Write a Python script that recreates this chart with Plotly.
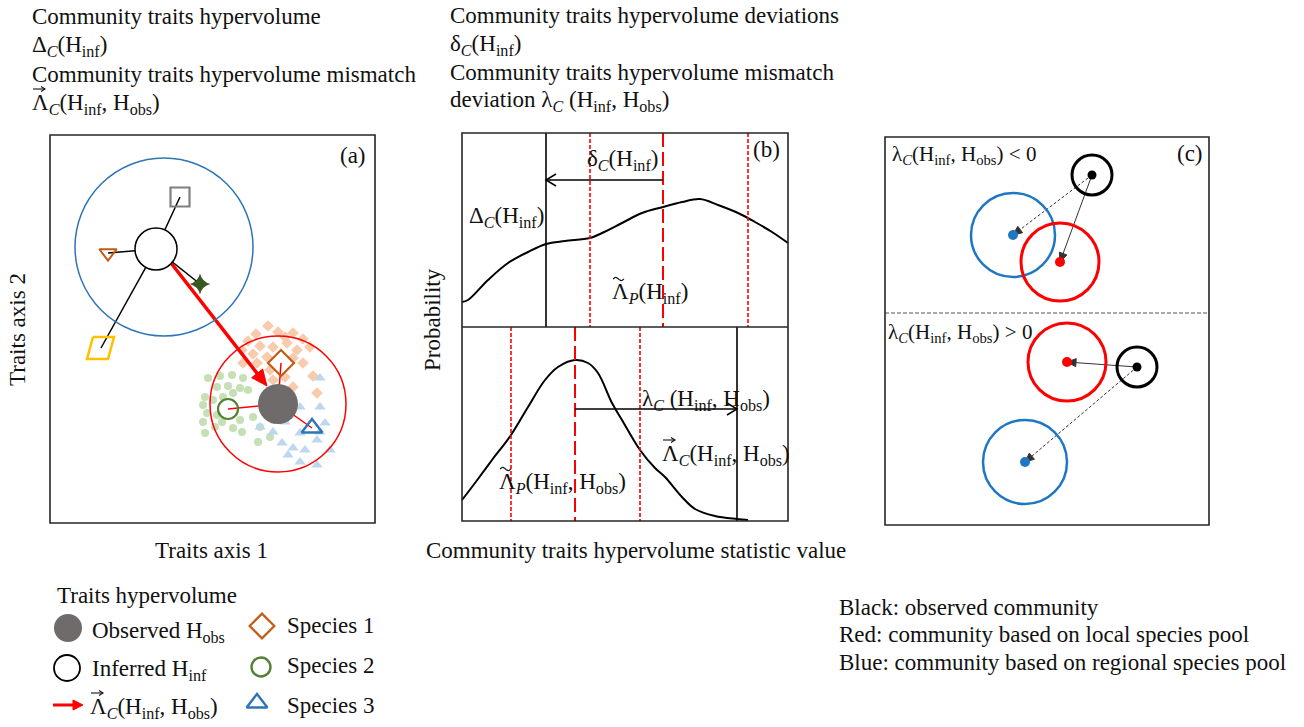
import numpy as np
import plotly.graph_objects as go

W, H = 1304, 727
FONT = "Liberation Serif"
BLUE = "#2e75b6"
RED = "#ff0000"
GRAY = "#6f6b6b"

# ---------------- panel frames (diagram units) ----------------
box_a = [50, 135, 375, 523]
box_b = [462, 133, 788, 521]
b_split = 327
box_c = [885, 137, 1209, 525]
c_split = 313

# ---------------- panel (a): trait space ----------------
regional_circle = dict(cx=164, cy=247, r=89)
local_circle = dict(cx=278, cy=404, r=68)
inferred = dict(cx=156, cy=249, r=21)
observed = dict(cx=278, cy=404, r=20)

# species of the regional pool linked to the inferred hypervolume
pool_sq = (180, 197)
pool_tri = (108, 253)
pool_star = (200, 284)
pool_para = (101, 348)
para_dx = [-8, 13, 7, -14, -8]
para_dy = [-11, -11, 11, 11, -11]

# local species and their individuals
sp1 = (281, 363)
sp2 = (228, 409)
sp3 = (312, 428)
sp1_x = [268, 278, 293, 256, 285, 303, 248, 260, 273, 287, 297, 310, 242, 253, 267, 293, 303, 313,
         243, 257, 270, 293, 317, 273, 285]
sp1_y = [326, 332, 333, 334, 337, 339, 341, 346, 347, 343, 350, 347, 350, 354, 357, 358, 363, 376,
         363, 363, 370, 387, 393, 380, 377]
sp2_x = [208, 220, 232, 243, 217, 228, 240, 248, 205, 203, 213, 223, 233, 207, 217, 203, 222, 240,
         253, 205, 215, 233, 242, 258, 270, 260, 273]
sp2_y = [378, 376, 375, 378, 387, 386, 388, 390, 397, 405, 400, 397, 393, 413, 415, 422, 422, 420,
         417, 433, 427, 428, 432, 442, 437, 427, 420]
sp3_x = [320, 300, 320, 325, 260, 273, 285, 300, 282, 293, 305, 317, 330, 288, 300, 317, 320]
sp3_y = [378, 407, 407, 423, 427, 432, 422, 433, 443, 448, 450, 440, 450, 455, 462, 465, 432]

mismatch_arrow = [(171, 263), (267, 386)]

# ---------------- panel (b): null distributions ----------------
top_x = [462, 468, 488, 508, 528, 546, 565, 590, 602, 622, 642, 663, 682, 700, 718, 738, 755, 772, 788]
top_y = [302, 300, 280, 263, 252, 244, 241, 238, 233, 223, 213, 207, 202, 199, 205, 213, 222, 232, 243]
bot_x = [462, 475, 492, 511, 528, 545, 558, 575, 588, 598, 612, 622, 640, 655, 665, 682, 695, 715, 737, 748]
bot_y = [500, 483, 460, 435, 407, 380, 367, 360, 363, 373, 403, 420, 450, 468, 477, 497, 509, 516, 519, 520]

top_obs_x = 546
top_quant_x = [590, 748]
top_mean_x = 663
bot_obs_x = 737
bot_quant_x = [511, 640]
bot_mean_x = 575
delta_arrow_y = 180
lambda_arrow_y = 409

# ---------------- panel (c): pool comparisons ----------------
c_obs = [(1092, 175), (1137, 367)]
c_local = [(1060, 262), (1067, 362)]
c_regional = [(1013, 235), (1025, 462)]
c_obs_r, c_local_r, c_reg_r = 20, 39, 42

# ---------------- legend ----------------
leg_obs = (68, 628)
leg_inf = (67, 668)
leg_arrow = [(53, 705), (83, 705)]
leg_sp = [(262, 626), (261, 667), (257, 703)]

fig = go.Figure()
shapes = []


def circle(cx, cy, r, color, width, fill="rgba(0,0,0,0)"):
    shapes.append(dict(type="circle", xref="x", yref="y", x0=cx - r, x1=cx + r, y0=cy - r, y1=cy + r,
                       line=dict(color=color, width=width), fillcolor=fill, layer="above"))


def rect(b, width=1.6):
    shapes.append(dict(type="rect", xref="x", yref="y", x0=b[0], y0=b[1], x1=b[2], y1=b[3],
                       line=dict(color="#262626", width=width), layer="above"))


def seg(x0, y0, x1, y1, color, width, dash="solid"):
    fig.add_trace(go.Scatter(x=[x0, x1], y=[y0, y1], mode="lines",
                             line=dict(color=color, width=width, dash=dash),
                             hoverinfo="skip", showlegend=False))


def arrow(x0, y0, x1, y1, color, width, dash="solid", head="filled", hl=10, hw=5):
    dx, dy = x1 - x0, y1 - y0
    L = np.hypot(dx, dy)
    ux, uy = dx / L, dy / L
    px, py = -uy, ux
    bx, by = x1 - ux * hl, y1 - uy * hl
    if head == "open":
        seg(x0, y0, x1, y1, color, width, dash)
        fig.add_trace(go.Scatter(x=[bx + px * hw, x1, bx - px * hw], y=[by + py * hw, y1, by - py * hw],
                                 mode="lines", line=dict(color=color, width=width),
                                 hoverinfo="skip", showlegend=False))
    else:
        seg(x0, y0, bx + ux * 2, by + uy * 2, color, width, dash)
        fig.add_trace(go.Scatter(x=[bx + px * hw, x1, bx - px * hw, bx + px * hw],
                                 y=[by + py * hw, y1, by - py * hw, by + py * hw],
                                 mode="lines", fill="toself", fillcolor=color,
                                 line=dict(color=color, width=1),
                                 hoverinfo="skip", showlegend=False))


def pts(x, y, symbol, color, size, lw=0, lcolor=None):
    fig.add_trace(go.Scatter(x=x, y=y, mode="markers",
                             marker=dict(symbol=symbol, color=color, size=size,
                                         line=dict(width=lw, color=lcolor or color)),
                             hoverinfo="skip", showlegend=False))


# ---- panel (a) ----
pts(sp1_x, sp1_y, "diamond", "#f8cbad", 9)
pts(sp2_x, sp2_y, "circle", "#c5e0b4", 8)
pts(sp3_x, sp3_y, "triangle-up", "#bdd7ee", 10)

for p in [pool_sq, pool_tri, pool_star, pool_para]:
    seg(inferred["cx"], inferred["cy"], p[0], p[1], "black", 1.5)
for p in [sp1, sp2, sp3]:
    seg(observed["cx"], observed["cy"], p[0], p[1], RED, 1.5)

pts([pool_sq[0]], [pool_sq[1]], "square-open", "#7f7f7f", 19, 2.2)
pts([pool_tri[0]], [pool_tri[1]], "triangle-down-open", "#c55a11", 15, 2)
pts([pool_star[0]], [pool_star[1]], "star-diamond", "#385723", 15, 0)
fig.add_trace(go.Scatter(x=[pool_para[0] + d for d in para_dx], y=[pool_para[1] + d for d in para_dy],
                         mode="lines", line=dict(color="#ffc000", width=2.5),
                         hoverinfo="skip", showlegend=False))
pts([sp1[0]], [sp1[1]], "diamond-open", "#c55a11", 20, 2.2)
pts([sp2[0]], [sp2[1]], "circle-open", "#548235", 20, 2.2)
pts([sp3[0]], [sp3[1]], "triangle-up-open", BLUE, 18, 2.4)

arrow(*mismatch_arrow[0], *mismatch_arrow[1], RED, 3.5, hl=16, hw=7)

circle(regional_circle["cx"], regional_circle["cy"], regional_circle["r"], BLUE, 1.5)
circle(local_circle["cx"], local_circle["cy"], local_circle["r"], RED, 1.5)
circle(inferred["cx"], inferred["cy"], inferred["r"], "black", 1.5, "white")
circle(observed["cx"], observed["cy"], observed["r"], GRAY, 0, GRAY)

# ---- panel (b) ----
fig.add_trace(go.Scatter(x=top_x, y=top_y, mode="lines", line=dict(color="black", width=2, shape="spline"),
                         hoverinfo="skip", showlegend=False))
fig.add_trace(go.Scatter(x=bot_x, y=bot_y, mode="lines", line=dict(color="black", width=2, shape="spline"),
                         hoverinfo="skip", showlegend=False))
for xq in top_quant_x:
    seg(xq, box_b[1], xq, b_split, RED, 1.6, "4px,2px")
seg(top_mean_x, box_b[1], top_mean_x, b_split, RED, 2, "14px,5px")
for xq in bot_quant_x:
    seg(xq, b_split, xq, box_b[3], RED, 1.6, "4px,2px")
seg(bot_mean_x, b_split, bot_mean_x, box_b[3], RED, 2, "14px,5px")
seg(top_obs_x, box_b[1], top_obs_x, b_split, "black", 1.6)
seg(bot_obs_x, b_split, bot_obs_x, box_b[3], "black", 1.6)
arrow(top_mean_x, delta_arrow_y, top_obs_x, delta_arrow_y, "black", 1.5, head="open", hl=10, hw=6)
arrow(bot_mean_x, lambda_arrow_y, bot_obs_x, lambda_arrow_y, "black", 1.5, head="open", hl=10, hw=6)
shapes.append(dict(type="line", xref="x", yref="y", x0=box_b[0], x1=box_b[2], y0=b_split, y1=b_split,
                   line=dict(color="#262626", width=1.6), layer="above"))

# ---- panel (c) ----
for i in range(2):
    o, lo, rg = c_obs[i], c_local[i], c_regional[i]
    arrow(o[0], o[1], rg[0], rg[1], "#333333", 1, dash="3px,2px", hl=9, hw=4)
    arrow(o[0], o[1], lo[0], lo[1], "#333333", 1, hl=9, hw=4)
    circle(rg[0], rg[1], c_reg_r, "#1f77c4", 2.5)
    circle(lo[0], lo[1], c_local_r, RED, 3)
    circle(o[0], o[1], c_obs_r, "black", 3)
    pts([o[0]], [o[1]], "circle", "black", 9)
    pts([lo[0]], [lo[1]], "circle", RED, 10)
    pts([rg[0]], [rg[1]], "circle", "#1f77c4", 10)
shapes.append(dict(type="line", xref="x", yref="y", x0=box_c[0], x1=box_c[2], y0=c_split, y1=c_split,
                   line=dict(color="#555555", width=1.2, dash="4px,2px"), layer="above"))

for b in [box_a, box_b, box_c]:
    rect(b)

# ---- legend ----
circle(leg_obs[0], leg_obs[1], 14, GRAY, 0, GRAY)
circle(leg_inf[0], leg_inf[1], 13, "black", 1.8, "white")
arrow(*leg_arrow[0], *leg_arrow[1], RED, 3, hl=10, hw=5)
pts([leg_sp[0][0]], [leg_sp[0][1]], "diamond-open", "#c55a11", 19, 2.2)
pts([leg_sp[1][0]], [leg_sp[1][1]], "circle-open", "#548235", 19, 2.4)
pts([leg_sp[2][0]], [leg_sp[2][1]], "triangle-up-open", BLUE, 18, 2.4)

# ---------------- text ----------------
FS = 23
sub = lambda s: f"<sub>{s}</sub>"
C = sub("<i>C</i>")
P = sub("<i>P</i>")
HINF = "H" + sub("inf")
HOBS = "H" + sub("obs")

# (x, y, text, anchor, size, angle, accent over the leading Λ)
texts = [
    (30, 16, "Community traits hypervolume", "left", FS, 0, None),
    (30, 46, f"Δ{C}({HINF})", "left", FS, 0, None),
    (30, 74, "Community traits hypervolume mismatch", "left", FS, 0, None),
    (30, 104, f"Λ{C}({HINF}, {HOBS})", "left", FS, 0, "vec"),
    (448, 15, "Community traits hypervolume deviations", "left", FS, 0, None),
    (448, 45, f"δ{C}({HINF})", "left", FS, 0, None),
    (448, 72, "Community traits hypervolume mismatch", "left", FS, 0, None),
    (448, 101, f"deviation λ{C} ({HINF}, {HOBS})", "left", FS, 0, None),
    (353, 155, "(a)", "center", FS, 0, None),
    (766, 149, "(b)", "center", FS, 0, None),
    (1190, 153, "(c)", "center", FS, 0, None),
    (211, 550, "Traits axis 1", "center", FS, 0, None),
    (17, 330, "Traits axis 2", "center", FS, -90, None),
    (432, 320, "Probability", "center", FS, -90, None),
    (636, 550, "Community traits hypervolume statistic value", "center", FS, 0, None),
    (622, 160, f"δ{C}({HINF})", "center", FS, 0, None),
    (467, 217, f"Δ{C}({HINF})", "left", FS, 0, None),
    (610, 293, f"Λ{P}({HINF})", "left", FS, 0, "tilde"),
    (640, 400, f"λ{C} ({HINF}, {HOBS})", "left", FS, 0, None),
    (660, 455, f"Λ{C}({HINF}, {HOBS})", "left", FS, 0, "vec"),
    (497, 483, f"Λ{P}({HINF}, {HOBS})", "left", FS, 0, "tilde"),
    (890, 155, f"λ{C}({HINF}, {HOBS}) &lt; 0", "left", 21, 0, None),
    (886, 333, f"λ{C}({HINF}, {HOBS}) &gt; 0", "left", 21, 0, None),
    (55, 595, "Traits hypervolume", "left", FS, 0, None),
    (90, 632, f"Observed {HOBS}", "left", FS, 0, None),
    (90, 670, f"Inferred {HINF}", "left", FS, 0, None),
    (88, 708, f"Λ{C}({HINF}, {HOBS})", "left", FS, 0, "vec"),
    (285, 625, "Species 1", "left", FS, 0, None),
    (285, 665, "Species 2", "left", FS, 0, None),
    (285, 705, "Species 3", "left", FS, 0, None),
    (837, 607, "Black: observed community", "left", FS, 0, None),
    (837, 634, "Red: community based on local species pool", "left", FS, 0, None),
    (837, 662, "Blue: community based on regional species pool", "left", FS, 0, None),
]
annotations = []
for x, y, t, a, s, ang, acc in texts:
    annotations.append(dict(x=x, y=y, xref="x", yref="y", text=t, showarrow=False, xanchor=a,
                            yanchor="middle", textangle=ang,
                            font=dict(family=FONT, size=s, color="#111111")))
    # accents over Λ are drawn as small strokes
    if acc == "vec":
        arrow(x + 3, y - 15, x + 15, y - 15, "#111111", 1.1, head="open", hl=4, hw=2.5)
    elif acc == "tilde":
        tx = np.linspace(x + 3, x + 14, 12)
        ty = y - 14 - 1.6 * np.sin((tx - tx[0]) / (tx[-1] - tx[0]) * 2 * np.pi)
        fig.add_trace(go.Scatter(x=tx, y=ty, mode="lines", line=dict(color="#111111", width=1.1),
                                 hoverinfo="skip", showlegend=False))

fig.update_layout(
    width=W, height=H, margin=dict(l=0, r=0, t=0, b=0),
    paper_bgcolor="white", plot_bgcolor="white",
    xaxis=dict(range=[0, W], visible=False, fixedrange=True),
    yaxis=dict(range=[H, 0], visible=False, fixedrange=True),
    shapes=shapes, annotations=annotations, showlegend=False,
)
fig.write_html("out.html")
